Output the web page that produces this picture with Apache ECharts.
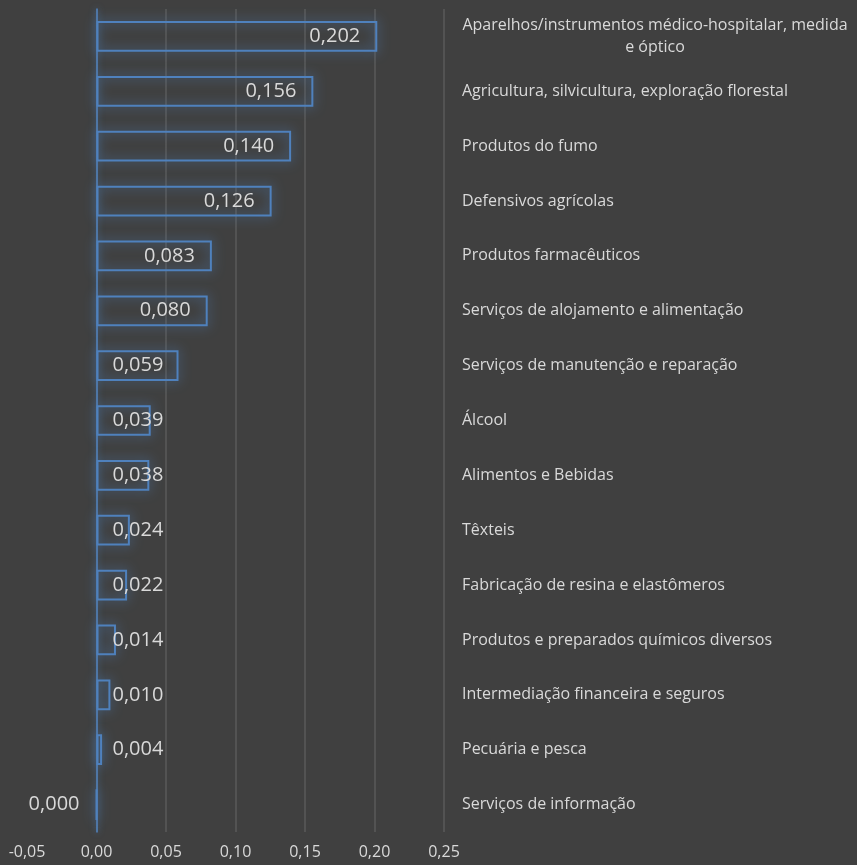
<!DOCTYPE html>
<html>
<head>
<meta charset="utf-8">
<title>Indicador por setor</title>
<script src="https://cdn.jsdelivr.net/npm/echarts@6/dist/echarts.min.js"></script>
<style>
  html, body { margin: 0; padding: 0; background: #404040; }
  #chart { width: 857px; height: 865px; }
</style>
</head>
<body>
<div id="chart"></div>
<script>
// Setores, do maior para o menor valor
const categories = [
  'Aparelhos/instrumentos médico-hospitalar, medida\ne óptico',
  'Agricultura, silvicultura, exploração florestal',
  'Produtos do fumo',
  'Defensivos agrícolas',
  'Produtos farmacêuticos',
  'Serviços de alojamento e alimentação',
  'Serviços de manutenção e reparação',
  'Álcool',
  'Alimentos e Bebidas',
  'Têxteis',
  'Fabricação de resina e elastômeros',
  'Produtos e preparados químicos diversos',
  'Intermediação financeira e seguros',
  'Pecuária e pesca',
  'Serviços de informação'
];
const values = [0.202, 0.156, 0.140, 0.126, 0.083, 0.080, 0.059, 0.039, 0.038, 0.024, 0.022, 0.014, 0.010, 0.004, 0.000];
const axisTicks = [-0.05, 0.00, 0.05, 0.10, 0.15, 0.20, 0.25];

const fmt = (v, d) => v.toFixed(d).replace('.', ',');
const BLUE = '#4f81bd';
const TEXT = '#d9d9d9';
const FONT = '"Open Sans", sans-serif';
const CAT_SIZE = 16;

// Width of the widest line of a wrapped category, so every line can be centred in it
const measureCtx = document.createElement('canvas').getContext('2d');
measureCtx.font = CAT_SIZE + 'px ' + FONT;
const blockWidth = s => Math.ceil(Math.max(...s.split('\n').map(l => measureCtx.measureText(l).width)));

// Short bars get their label pushed past the bar end; zero gets it on the left
const barData = values.map(v => {
  let label;
  if (v <= 0) {
    label = { position: 'left', distance: 16 };
  } else if (v < 0.062) {
    label = { position: 'insideLeft', distance: 16 };
  } else {
    label = { position: 'insideRight', distance: 17 };
  }
  return { value: v, label };
});

const chart = echarts.init(document.getElementById('chart'), null, { renderer: 'canvas' });

function draw() {
  const wrapped = categories.find(s => s.indexOf('\n') >= 0) || '';
  chart.setOption({
    backgroundColor: '#404040',
    animation: false,
    grid: { left: 27, right: 413, top: 9, bottom: 33, containLabel: false },
    xAxis: {
      type: 'value',
      min: axisTicks[0],
      max: axisTicks[axisTicks.length - 1],
      interval: 0.05,
      axisLine: { show: false },
      axisTick: { show: false },
      axisLabel: {
        color: TEXT, fontFamily: FONT, fontSize: 16, margin: 12,
        formatter: v => fmt(v, 2)
      },
      splitLine: { show: true, showMinLine: false, lineStyle: { color: '#5a5a5a', width: 1.5 } }
    },
    yAxis: [
      {
        type: 'category',
        data: categories,
        inverse: true,
        axisLine: {
          show: true, onZero: true,
          lineStyle: { color: BLUE, width: 1.5, shadowBlur: 6, shadowColor: 'rgba(79,129,189,0.8)' }
        },
        axisTick: { show: false },
        axisLabel: { show: false },
        splitLine: { show: false }
      },
      {
        type: 'category',
        data: categories,
        inverse: true,
        position: 'right',
        axisLine: { show: false },
        axisTick: { show: false },
        splitLine: { show: false },
        axisLabel: {
          color: TEXT, fontFamily: FONT, fontSize: CAT_SIZE, margin: 18, align: 'left',
          lineHeight: 22,
          formatter: s => s.indexOf('\n') >= 0
            ? s.split('\n').map(l => '{c|' + l + '}').join('\n')
            : s,
          rich: {
            c: { width: blockWidth(wrapped), align: 'center', color: TEXT, fontFamily: FONT, fontSize: CAT_SIZE, lineHeight: 22 }
          }
        }
      }
    ],
    series: [{
      type: 'bar',
      yAxisIndex: 0,
      data: barData,
      barCategoryGap: '44%',
      itemStyle: {
        color: 'rgba(64,64,64,0)',
        borderColor: BLUE,
        borderWidth: 2,
        shadowBlur: 12,
        shadowColor: 'rgba(79,129,189,1)'
      },
      label: {
        show: true,
        color: TEXT,
        fontFamily: FONT,
        fontSize: 20,
        formatter: p => fmt(p.value, 3)
      }
    }]
  });
}

if (document.fonts && document.fonts.load) {
  document.fonts.load(CAT_SIZE + 'px "Open Sans"').then(() => {
    measureCtx.font = CAT_SIZE + 'px ' + FONT;
    draw();
  }, draw);
} else {
  draw();
}
draw();
</script>
</body>
</html>
